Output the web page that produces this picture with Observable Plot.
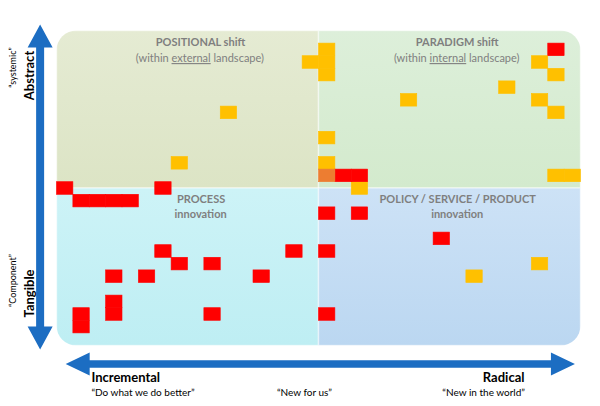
<!DOCTYPE html>
<html><head><meta charset="utf-8">
<script src="https://cdn.jsdelivr.net/npm/d3@7"></script>
<script src="https://cdn.jsdelivr.net/npm/@observablehq/plot@0.6"></script>
<style>
html,body{margin:0;padding:0;background:#fff;}
</style>
</head><body><div id="chart"></div>
<script>
// ---- data: grid cells [column, row] (32 columns x 25 rows, row 0 at top)
const redCells = [[30,1],[17,11],[18,11],[0,12],[6,12],[1,13],[2,13],[3,13],[4,13],[16,14],[18,14],[23,16],[6,17],[14,17],[16,17],[7,18],[9,18],[3,19],[5,19],[12,19],[3,21],[1,22],[3,22],[9,22],[16,22],[1,23]];
const amberCells = [[16,1],[15,2],[16,2],[29,2],[16,3],[30,3],[27,4],[21,5],[29,5],[10,6],[30,6],[16,8],[7,10],[16,10],[30,11],[31,11],[18,12],[29,18],[25,19]];
const orangeCells = [[16,11]];

const quadrantIds = ["tl","tr","bl","br"];
const quadrantTitles = ["POSITIONAL shift","PARADIGM shift","PROCESS","POLICY / SERVICE / PRODUCT"];
const quadrantSecond = [["(within ","external"," landscape)"],["(within ","internal"," landscape)"],["innovation"],["innovation"]];
const xEndLabels = ["Incremental","Radical"];
const xQuotes = ["\u201CDo what we do better\u201D","\u201CNew for us\u201D","\u201CNew in the world\u201D"];
const yEndLabels = ["Abstract","Tangible"];
const yQuotes = ["\u201Csystemic\u201D","\u201CComponent\u201D"];

// ---- layout / styles
const FONT = "Lato, 'Open Sans', sans-serif";
const NCOL = 32, NROW = 25;
const quadBounds = {tl:[0,16,0,12.5], tr:[16,32,0,12.5], bl:[0,16,12.5,25], br:[16,32,12.5,25]};
const quadFill = {tl:["#E5EBD3","#DCE4C5"], tr:["#DDEFDA","#D3EACD"], bl:["#CDF3F7","#BEEEF3"], br:["#CDE2F6","#BBD7F1"]};
const BLUE = "#1C6DC2";

function backdrop(index, scales) {
  const {x, y} = scales;
  const g = d3.create("svg:g");
  const defs = g.append("defs");
  defs.append("clipPath").attr("id","qclip").append("rect")
    .attr("x", x(0)).attr("y", y(0))
    .attr("width", x(NCOL) - x(0)).attr("height", y(NROW) - y(0)).attr("rx", 20);
  quadrantIds.forEach(id => {
    const lg = defs.append("linearGradient").attr("id","grad-"+id).attr("x1",0).attr("y1",0).attr("x2",0).attr("y2",1);
    lg.append("stop").attr("offset","0%").attr("stop-color", quadFill[id][0]);
    lg.append("stop").attr("offset","100%").attr("stop-color", quadFill[id][1]);
  });
  const body = g.append("g").attr("clip-path","url(#qclip)");
  quadrantIds.forEach(id => {
    const [a,b,c,d] = quadBounds[id];
    body.append("rect").attr("x", x(a)).attr("y", y(c))
      .attr("width", x(b)-x(a)).attr("height", y(d)-y(c))
      .attr("fill", `url(#grad-${id})`)
      .attr("stroke", "rgba(255,255,255,0.45)").attr("stroke-width", 1.5);
  });
  return g.node();
}

const titleAt = {tl:[8.76,0.93], tr:[24.44,0.93], bl:[8.8,13.37], br:[24.47,13.37]};
const secondAt = {tl:[8.76,2.2], tr:[24.44,2.2], bl:[8.8,14.58], br:[24.47,14.58]};

function secondLines(index, scales) {
  const g = d3.create("svg:g").attr("font-family", FONT).attr("font-size", 11)
    .attr("fill", "#7F7F7F").attr("text-anchor", "middle");
  quadrantIds.forEach((id, i) => {
    const parts = quadrantSecond[i];
    const t = g.append("text").attr("x", scales.x(secondAt[id][0])).attr("y", scales.y(secondAt[id][1]))
      .attr("dy", "0.35em").attr("font-weight", parts.length === 1 ? "bold" : "normal");
    parts.forEach((p, j) => {
      const s = t.append("tspan").text(p);
      if (j === 1) s.style("text-decoration", "underline");
    });
  });
  return g.node();
}

function arrows(index, scales) {
  const {x, y} = scales;
  const g = d3.create("svg:g").attr("fill", BLUE);
  const s = 8, W = 25, L = 23;
  // vertical double arrow
  const vx = x(-1.0), vt = y(-0.48), vb = y(25.32);
  g.append("polygon").attr("points", [
    [vx, vt],[vx+W/2, vt+L],[vx+s/2, vt+L],[vx+s/2, vb-L],[vx+W/2, vb-L],[vx, vb],
    [vx-W/2, vb-L],[vx-s/2, vb-L],[vx-s/2, vt+L],[vx-W/2, vt+L]].map(p=>p.join(",")).join(" "));
  // horizontal double arrow
  const hy = y(26.47), hl = x(0.56), hr = x(31.66), Wh = 23, Lh = 24, sh = 7.5;
  g.append("polygon").attr("points", [
    [hl, hy],[hl+Lh, hy-Wh/2],[hl+Lh, hy-sh/2],[hr-Lh, hy-sh/2],[hr-Lh, hy-Wh/2],[hr, hy],
    [hr-Lh, hy+Wh/2],[hr-Lh, hy+sh/2],[hl+Lh, hy+sh/2],[hl+Lh, hy+Wh/2]].map(p=>p.join(",")).join(" "));
  return g.node();
}

const cellRect = (data, fill) => Plot.rect(data, {
  x1: d => d[0], x2: d => d[0] + 1, y1: d => d[1], y2: d => d[1] + 1,
  fill, stroke: fill, strokeWidth: 0.6
});

const chart = Plot.plot({
  width: 600, height: 406,
  marginLeft: 56.5, marginRight: 19.5, marginTop: 30.5, marginBottom: 60.5,
  style: {fontFamily: FONT, background: "#fff"},
  x: {domain: [0, NCOL], axis: null},
  y: {domain: [0, NROW], reverse: true, axis: null},
  marks: [
    backdrop,
    cellRect(amberCells, "#FFC000"),
    cellRect(redCells, "#FF0000"),
    cellRect(orangeCells, "#ED7D31"),
    Plot.text(quadrantIds.map((id,i)=>({id, t: quadrantTitles[i]})), {
      x: d => titleAt[d.id][0], y: d => titleAt[d.id][1], text: "t",
      fontSize: 11, fontWeight: "bold", fill: "#7F7F7F", lineAnchor: "middle"
    }),
    secondLines,
    arrows,
    // x-axis end labels
    Plot.text([xEndLabels[0]], {x: 2.1, y: 27.82, text: d => d, textAnchor: "start", lineAnchor: "bottom", fontSize: 13, fontWeight: "bold", fill: "#000"}),
    Plot.text([xEndLabels[1]], {x: 28.55, y: 27.82, text: d => d, textAnchor: "end", lineAnchor: "bottom", fontSize: 13, fontWeight: "bold", fill: "#000"}),
    Plot.text([xQuotes[0]], {x: 2.1, y: 28.93, text: d => d, textAnchor: "start", lineAnchor: "bottom", fontSize: 10, fill: "#000"}),
    Plot.text([xQuotes[1]], {x: 15.11, y: 28.93, text: d => d, textAnchor: "middle", lineAnchor: "bottom", fontSize: 10, fill: "#000"}),
    Plot.text([xQuotes[2]], {x: 28.58, y: 28.93, text: d => d, textAnchor: "end", lineAnchor: "bottom", fontSize: 10, fill: "#000"}),
    // y-axis end labels (rotated)
    Plot.text([yEndLabels[0]], {x: -1.435, y: 3.53, text: d => d, rotate: -90, textAnchor: "middle", lineAnchor: "bottom", fontSize: 13, fontWeight: "bold", fill: "#000"}),
    Plot.text([yEndLabels[1]], {x: -1.435, y: 20.83, text: d => d, rotate: -90, textAnchor: "middle", lineAnchor: "bottom", fontSize: 13, fontWeight: "bold", fill: "#000"}),
    Plot.text([yQuotes[0]], {x: -2.53, y: 2.9, text: d => d, rotate: -90, textAnchor: "middle", lineAnchor: "bottom", fontSize: 9, fill: "#000"}),
    Plot.text([yQuotes[1]], {x: -2.53, y: 19.8, text: d => d, rotate: -90, textAnchor: "middle", lineAnchor: "bottom", fontSize: 9, fill: "#000"})
  ]
});
document.getElementById("chart").appendChild(chart);
</script>
</body></html>
